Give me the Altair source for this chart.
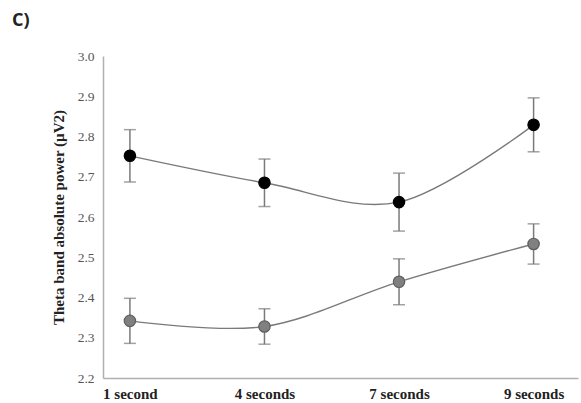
import altair as alt
import pandas as pd

categories = ["1 second", "4 seconds", "7 seconds", "9 seconds"]
group_a = [2.752, 2.685, 2.637, 2.829]
group_a_err = [0.065, 0.059, 0.072, 0.067]
group_b = [2.342, 2.328, 2.439, 2.533]
group_b_err = [0.056, 0.044, 0.057, 0.050]

rows = []
for i, c in enumerate(categories):
    rows.append({"idx": i, "cat": c, "series": "A", "value": group_a[i],
                 "lo": group_a[i] - group_a_err[i], "hi": group_a[i] + group_a_err[i]})
    rows.append({"idx": i, "cat": c, "series": "B", "value": group_b[i],
                 "lo": group_b[i] - group_b_err[i], "hi": group_b[i] + group_b_err[i]})
df = pd.DataFrame(rows)

label_expr = "[" + ",".join("'%s'" % c for c in categories) + "][datum.value]"

x = alt.X("idx:Q",
          scale=alt.Scale(domain=[-0.2, 3.33], nice=False, zero=False),
          axis=alt.Axis(values=list(range(len(categories))), labelExpr=label_expr,
                        title=None, ticks=False, grid=False, domainColor="#b0b0b0",
                        domainWidth=1.5, labelFont="Liberation Serif", labelFontWeight="bold",
                        labelFontSize=15, labelColor="#222222", labelPadding=8))
y = alt.Y("value:Q",
          scale=alt.Scale(domain=[2.2, 3.0], nice=False, zero=False),
          axis=alt.Axis(values=[2.2, 2.3, 2.4, 2.5, 2.6, 2.7, 2.8, 2.9, 3.0], format=".1f",
                        title="Theta band absolute power (µV2)", ticks=False, grid=False,
                        domainColor="#b0b0b0", domainWidth=1.5,
                        labelFont="Liberation Serif", labelFontSize=13.5, labelColor="#555555",
                        labelPadding=9, titleFont="Liberation Serif", titleFontWeight="bold",
                        titleFontSize=15, titleColor="#222222", titlePadding=11))

base = alt.Chart(df)

lines = base.mark_line(interpolate="cardinal", color="#7a7a7a", strokeWidth=1.4).encode(
    x=x, y=y, detail="series:N")

rules = base.mark_rule(color="#7a7a7a", strokeWidth=1.5).encode(
    x="idx:Q", y="lo:Q", y2="hi:Q")
caps_hi = base.mark_tick(orient="horizontal", color="#7a7a7a", size=12, thickness=1.5).encode(
    x="idx:Q", y="hi:Q")
caps_lo = base.mark_tick(orient="horizontal", color="#7a7a7a", size=12, thickness=1.5).encode(
    x="idx:Q", y="lo:Q")

points = base.mark_point(filled=True, size=130, opacity=1, strokeWidth=1.2).encode(
    x="idx:Q", y="value:Q",
    fill=alt.Fill("series:N", scale=alt.Scale(domain=["A", "B"], range=["#000000", "#808080"]),
                  legend=None),
    stroke=alt.Stroke("series:N", scale=alt.Scale(domain=["A", "B"], range=["#000000", "#5e5e5e"]),
                      legend=None),
    shape=alt.value("circle"))

label = alt.Chart(pd.DataFrame({"t": ["C)"]})).mark_text(
    font="Open Sans", fontWeight="bold", fontSize=18, align="left", baseline="middle",
    color="#222222").encode(text="t:N", x=alt.value(-91), y=alt.value(-35))

chart = alt.layer(lines, rules, caps_hi, caps_lo, points, label).properties(
    width=475, height=322,
    autosize=alt.AutoSizeParams(type="none"),
    padding={"left": 103, "top": 56, "right": 3, "bottom": 25},
).configure_view(stroke=None)

chart.save("out.html", embed_options={"renderer": "svg", "actions": False})
